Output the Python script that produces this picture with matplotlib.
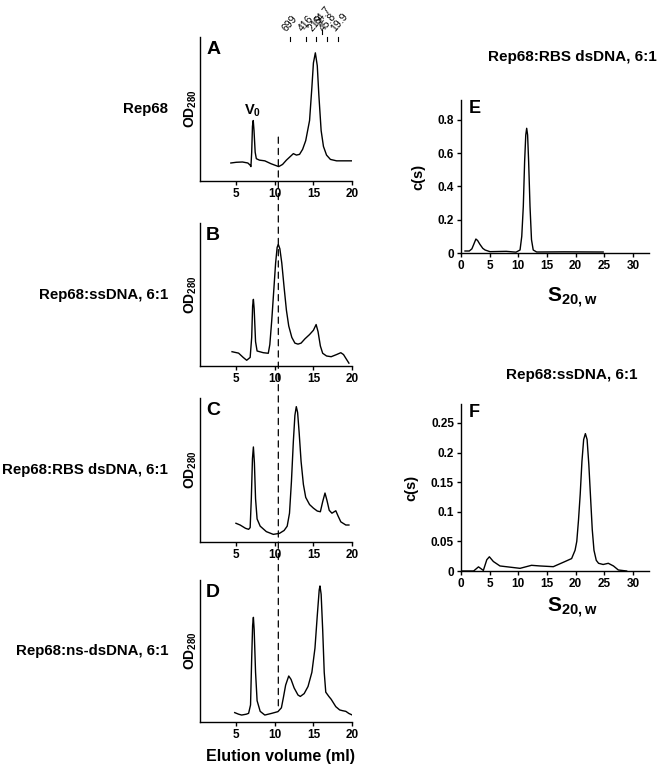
import matplotlib
matplotlib.use('Agg')
import matplotlib.pyplot as plt
from matplotlib.patches import ConnectionPatch

plt.rcParams['font.family'] = ['Liberation Sans', 'DejaVu Sans']
plt.rcParams['font.weight'] = 'bold'
plt.rcParams['axes.labelweight'] = 'bold'
plt.rcParams['mathtext.fontset'] = 'custom'
plt.rcParams['mathtext.rm'] = 'Liberation Sans:bold'
plt.rcParams['mathtext.it'] = 'Liberation Sans:bold'
plt.rcParams['mathtext.bf'] = 'Liberation Sans:bold'

# region [Data]

# gel filtration traces (elution volume in ml, OD280 in relative units)
a_vol = [4.3, 5.0, 5.8, 6.5, 6.8, 6.9, 7.0, 7.1, 7.2, 7.3, 7.45, 7.6, 8.0, 8.7, 9.5, 10.5, 11.0,
         11.5, 12.0, 12.4, 12.8, 13.2, 13.6, 14.0, 14.5, 14.8, 15.0, 15.25, 15.5, 15.7, 16.0, 16.3,
         16.7, 17.2, 18.0, 20.0]
a_od = [0.125, 0.13, 0.132, 0.125, 0.11, 0.10, 0.20, 0.38, 0.42, 0.35, 0.20, 0.155, 0.145, 0.14, 0.12, 0.10, 0.115,
        0.145, 0.17, 0.19, 0.18, 0.185, 0.22, 0.28, 0.42, 0.65, 0.82, 0.89, 0.80, 0.60, 0.35, 0.24,
        0.18, 0.15, 0.14, 0.14]

b_vol = [4.45, 5.3, 5.9, 6.35, 6.8, 7.0, 7.12, 7.22, 7.32, 7.5, 7.7, 8.5, 9.15, 9.35, 9.6, 9.85,
         10.1, 10.3, 10.45, 10.65, 10.9, 11.2, 11.5, 11.8, 12.2, 12.6, 13.0, 13.4, 13.9, 14.5, 15.0,
         15.35, 15.6, 15.9, 16.2, 16.7, 17.3, 18.0, 18.55, 18.9, 19.2, 19.6]
b_od = [0.10, 0.09, 0.06, 0.04, 0.06, 0.20, 0.42, 0.466, 0.40, 0.17, 0.105, 0.093, 0.089, 0.15, 0.32, 0.52,
        0.72, 0.83, 0.85, 0.82, 0.72, 0.55, 0.39, 0.28, 0.20, 0.16, 0.153, 0.16, 0.19, 0.22, 0.25,
        0.29, 0.24, 0.14, 0.089, 0.07, 0.065, 0.08, 0.093, 0.08, 0.054, 0.02]

c_vol = [4.96, 5.5, 6.2, 6.6, 6.8, 6.95, 7.1, 7.22, 7.35, 7.5, 7.7, 8.1, 8.9, 9.8, 10.6, 11.2, 11.6,
         11.9, 12.15, 12.4, 12.6, 12.78, 12.95, 13.15, 13.4, 13.7, 14.0, 14.5, 15.0, 15.5, 15.9,
         16.2, 16.5, 16.75, 17.05, 17.4, 17.9, 18.2, 18.55, 19.2, 19.6]
c_od = [0.13, 0.118, 0.095, 0.088, 0.10, 0.30, 0.58, 0.66, 0.55, 0.30, 0.16, 0.11, 0.072, 0.053, 0.06, 0.08, 0.11,
        0.20, 0.42, 0.70, 0.88, 0.94, 0.90, 0.76, 0.56, 0.40, 0.31, 0.26, 0.235, 0.215, 0.21,
        0.28, 0.34, 0.29, 0.22, 0.20, 0.217, 0.18, 0.14, 0.118, 0.118]

d_vol = [4.8, 5.3, 5.7, 6.3, 6.6, 6.85, 7.0, 7.12, 7.22, 7.32, 7.5, 7.7, 8.1, 8.7, 9.6, 10.4, 10.85,
         11.1, 11.4, 11.8, 12.1, 12.5, 13.0, 13.3, 13.8, 14.3, 14.8, 15.2, 15.5, 15.75, 15.85, 16.0,
         16.2, 16.4, 16.6, 17.0, 17.3, 17.9, 18.4, 18.75, 19.2, 19.6, 20.0]
d_od = [0.066, 0.055, 0.049, 0.055, 0.061, 0.12, 0.45, 0.68, 0.737, 0.65, 0.35, 0.15, 0.075, 0.049, 0.061, 0.073, 0.10,
        0.17, 0.26, 0.324, 0.30, 0.24, 0.19, 0.18, 0.20, 0.25, 0.35, 0.52, 0.75, 0.93, 0.958, 0.90,
        0.65, 0.35, 0.21, 0.18, 0.16, 0.108, 0.085, 0.08, 0.075, 0.06, 0.05]

# calibration standards (kDa) and their elution volumes
std_labels = ['699', '416', '219', '64.7', '45.8', '19.9']
std_vol = [11.9, 14.0, 15.3, 16.1, 16.7, 18.2]
void_vol = 10.45

# sedimentation coefficient distributions
e_s = [0.7, 1.45, 1.9, 2.2, 2.6, 2.9, 3.3, 3.8, 4.2, 5.06, 7.9, 9.6, 10.3, 10.6, 10.87, 11.1,
       11.3, 11.46, 11.62, 11.8, 12.04, 12.3, 12.6, 13.2, 18.0, 24.8]
e_cs = [0.012, 0.012, 0.025, 0.05, 0.084, 0.075, 0.052, 0.028, 0.018, 0.008, 0.01, 0.005, 0.018, 0.10, 0.28, 0.55,
        0.71, 0.75, 0.71, 0.55, 0.28, 0.08, 0.018, 0.006, 0.007, 0.006]

f_s = [0.0, 2.2, 3.05, 3.9, 4.5, 4.95, 5.65, 6.8, 10.3, 12.3, 13.8, 16.1, 18.15, 19.3, 19.9,
       20.2, 20.5, 20.8, 21.1, 21.4, 21.7, 22.0, 22.3, 22.6, 22.9, 23.2, 23.6, 24.0, 24.8, 25.7,
       26.6, 27.45, 28.9]
f_cs = [0.0, 0.0, 0.007, 0.001, 0.019, 0.024, 0.016, 0.0085, 0.0045, 0.0096, 0.0085, 0.0073, 0.016, 0.021, 0.035,
        0.05, 0.086, 0.13, 0.185, 0.222, 0.232, 0.222, 0.18, 0.125, 0.07, 0.035, 0.018, 0.013, 0.011, 0.013,
        0.0085, 0.0017, 0.0]

# endregion

W, H = 662, 774
fig = plt.figure(figsize=(W / 100, H / 100), dpi=100)

def box(x0, x1, top, bottom):
  return [x0 / W, 1 - bottom / H, (x1 - x0) / W, (bottom - top) / H]

def style(ax):
  for s in ('top', 'right'):
    ax.spines[s].set_visible(False)
  for s in ('left', 'bottom'):
    ax.spines[s].set_linewidth(1.0)
  ax.tick_params(direction='out', length=3, width=1, labelsize=8.5, pad=2)

# left column: gel filtration
left_panels = [
  ('A', 'Rep68', a_vol, a_od, (37, 181)),
  ('B', 'Rep68:ssDNA, 6:1', b_vol, b_od, (223, 366)),
  ('C', 'Rep68:RBS dsDNA, 6:1', c_vol, c_od, (398, 542)),
  ('D', 'Rep68:ns-dsDNA, 6:1', d_vol, d_od, (580, 722)),
]
gf_axes = []
for letter, name, vol, od, (top, bottom) in left_panels:
  ax = fig.add_axes(box(200, 352, top, bottom))
  style(ax)
  ax.plot(vol, od, color='black', lw=1.0, solid_joinstyle='round')
  ax.set_xlim(0.3, 20)
  ax.set_ylim(0, 1)
  ax.set_xticks([5, 10, 15, 20])
  ax.set_yticks([])
  ax.set_ylabel('OD$_{280}$', fontsize=10, labelpad=1)
  ax.text(0.04, 0.97, letter, transform=ax.transAxes, fontsize=14, va='top', ha='left')
  ax.text(-0.21, 0.5, name, transform=ax.transAxes, fontsize=10.8, va='center', ha='right')
  gf_axes.append(ax)

axA, axD = gf_axes[0], gf_axes[-1]
axA.text(7.1, 0.49, 'V$_0$', fontsize=10.5, ha='center', va='center')
for lab, v in zip(std_labels, std_vol):
  lift = 0.05 if lab == '64.7' else 0.0
  axA.plot([v, v], [0.97 + lift, 1.0 + lift], color='black', lw=0.8, clip_on=False)
  axA.text(v - 0.2, 1.025 + lift, lab, fontsize=7.5, fontweight='normal', rotation=50,
           ha='left', va='bottom', rotation_mode='anchor')
fig.text(281 / W, 1 - 757 / H, 'Elution volume (ml)', fontsize=11.5, ha='center', va='center')

fig.add_artist(ConnectionPatch((void_vol, 0.305), (void_vol, 0.106), 'data', 'data',
                               axesA=axA, axesB=axD, color='black', lw=0.9,
                               linestyle=(0, (5, 4))))

# right column: sedimentation velocity
right_panels = [
  ('E', 'Rep68:RBS dsDNA, 6:1', e_s, e_cs, (100, 253), 0.92, [0, 0.2, 0.4, 0.6, 0.8],
   ['0', '0.2', '0.4', '0.6', '0.8'], 57, 298),
  ('F', 'Rep68:ssDNA, 6:1', f_s, f_cs, (404, 571), 0.282, [0, 0.05, 0.1, 0.15, 0.2, 0.25],
   ['0', '0.05', '0.1', '0.15', '0.2', '0.25'], 375, 608),
]
for letter, title, s, cs, (top, bottom), ymax, yt, ytl, ty, ly in right_panels:
  ax = fig.add_axes(box(461, 649, top, bottom))
  style(ax)
  ax.plot(s, cs, color='black', lw=1.0, solid_joinstyle='round')
  ax.set_xlim(0, 32.8)
  ax.set_ylim(0, ymax)
  ax.set_xticks([0, 5, 10, 15, 20, 25, 30])
  ax.set_yticks(yt)
  ax.set_yticklabels(ytl)
  ax.set_ylabel('c(s)', fontsize=10.5, labelpad=9)
  ax.text(0.04, 1.0, letter, transform=ax.transAxes, fontsize=13, va='top', ha='left')
  fig.text(572 / W, 1 - ty / H, title, fontsize=11, ha='center', va='center')
  fig.text(572 / W, 1 - ly / H, 'S$_{20,w}$', fontsize=15, ha='center', va='center')

fig.savefig('out.png', dpi=100)
